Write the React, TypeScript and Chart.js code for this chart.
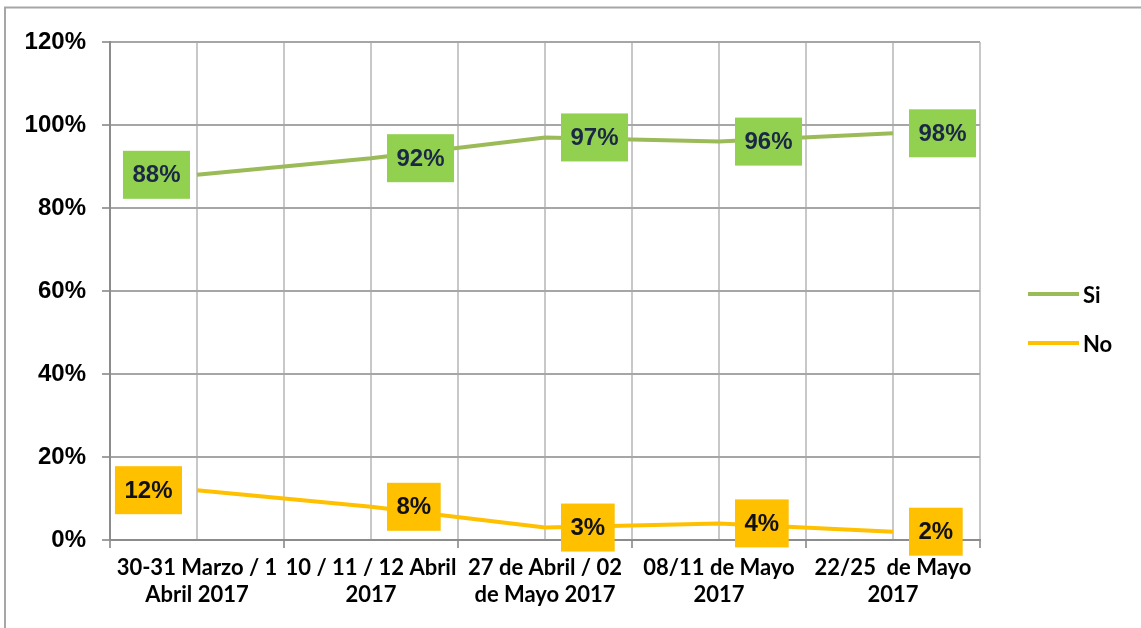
import React, { useEffect, useRef } from 'react';
import { Chart, registerables } from 'chart.js';

Chart.register(...registerables);

const categories: string[][] = [
  ['30-31 Marzo / 1', 'Abril 2017'],
  ['10 / 11 / 12 Abril', '2017'],
  ['27 de Abril / 02', 'de Mayo 2017'],
  ['08/11 de Mayo', '2017'],
  ['22/25  de Mayo', '2017'],
];
const seriesNames = ['Si', 'No'];
const siValues = [88, 92, 97, 96, 98];
const noValues = [12, 8, 3, 4, 2];
const yMin = 0;
const yMax = 120;
const yStep = 20;

const lineColors = ['#9BBB59', '#FFC000'];
const boxColors = ['#92D050', '#FFC000'];
const boxTextColors = ['#1B2845', '#111111'];

const ARIAL_BOLD = 'bold 24px "Liberation Sans", Arial, sans-serif';
const CAL_FAMILY = 'Lato, "Liberation Sans", sans-serif';

const labelPlugin = {
  id: 'customDecor',
  beforeDraw(chart: any) {
    const ctx = chart.ctx;
    ctx.save();
    ctx.fillStyle = '#FFFFFF';
    ctx.fillRect(0, 0, chart.width, chart.height);
    ctx.strokeStyle = '#A6A6A6';
    ctx.lineWidth = 2;
    ctx.strokeRect(5, 7.5, chart.width + 20, chart.height + 20);
    ctx.restore();
  },
  afterDatasetsDraw(chart: any) {
    const ctx = chart.ctx;
    ctx.save();
    ctx.font = ARIAL_BOLD;
    ctx.textBaseline = 'middle';
    ctx.textAlign = 'center';
    chart.data.datasets.forEach((ds: any, di: number) => {
      const meta = chart.getDatasetMeta(di);
      meta.data.forEach((pt: any, i: number) => {
        const v = ds.data[i].y;
        const text = v + '%';
        const tw = ctx.measureText(text).width;
        const w = tw + 19;
        const h = 48;
        let left: number;
        if (i === 0) {
          left = pt.x - (di === 0 ? 7 : 15) - w;
        } else {
          left = pt.x + 16;
        }
        const top = pt.y - h / 2;
        ctx.fillStyle = boxColors[di];
        ctx.fillRect(left, top, w, h);
        ctx.fillStyle = boxTextColors[di];
        ctx.fillText(text, left + w / 2, pt.y + 1);
      });
    });
    ctx.restore();
  },
  afterDraw(chart: any) {
    const ctx = chart.ctx;
    ctx.save();
    const ys = [294, 343];
    seriesNames.forEach((name, i) => {
      ctx.strokeStyle = lineColors[i];
      ctx.lineWidth = 4;
      ctx.beginPath();
      ctx.moveTo(1028, ys[i]);
      ctx.lineTo(1079, ys[i]);
      ctx.stroke();
      ctx.fillStyle = '#000000';
      ctx.font = 'bold 22px ' + CAL_FAMILY;
      ctx.textAlign = 'left';
      ctx.textBaseline = 'middle';
      ctx.fillText(name, 1083, ys[i] + 2);
    });
    ctx.restore();
  },
};

export default function App() {
  const ref = useRef<HTMLCanvasElement | null>(null);
  useEffect(() => {
    document.body.style.margin = '0';
    if (!ref.current) return;
    const chart = new Chart(ref.current, {
      type: 'line',
      data: {
        datasets: [
          {
            label: seriesNames[0],
            data: siValues.map((v, i) => ({ x: 2 * i + 1, y: v })),
            borderColor: lineColors[0],
            backgroundColor: lineColors[0],
            borderWidth: 4,
            pointRadius: 0,
            tension: 0,
            fill: false,
          },
          {
            label: seriesNames[1],
            data: noValues.map((v, i) => ({ x: 2 * i + 1, y: v })),
            borderColor: lineColors[1],
            backgroundColor: lineColors[1],
            borderWidth: 4,
            pointRadius: 0,
            tension: 0,
            fill: false,
          },
        ],
      },
      options: {
        animation: false,
        responsive: false,
        maintainAspectRatio: false,
        layout: { padding: { top: 42, right: 161, left: 0, bottom: 0 } },
        plugins: {
          legend: { display: false },
          tooltip: { enabled: false },
        },
        scales: {
          x: {
            type: 'linear',
            min: 0,
            max: categories.length * 2,
            afterFit: (s: any) => {
              s.height = 88;
            },
            ticks: {
              stepSize: 1,
              autoSkip: false,
              maxTicksLimit: 30,
              maxRotation: 0,
              minRotation: 0,
              padding: 6,
              color: '#000000',
              font: { family: CAL_FAMILY, size: 22, weight: 'bold', lineHeight: 1.25 },
              callback: (v: any) => {
                const n = Number(v);
                return n % 2 === 1 ? categories[(n - 1) / 2] : '';
              },
            },
            grid: {
              color: '#C8C8C8',
              lineWidth: 2,
              tickLength: 8,
              tickColor: (c: any) => (c.tick && c.tick.value % 2 === 0 ? '#A0A0A0' : 'rgba(0,0,0,0)'),
            },
            border: { color: '#8C8C8C', width: 2 },
          },
          y: {
            min: yMin,
            max: yMax,
            afterFit: (s: any) => {
              s.width = 110;
            },
            ticks: {
              stepSize: yStep,
              padding: 16,
              color: '#000000',
              font: { family: '"Liberation Sans", Arial, sans-serif', size: 24, weight: 'bold' },
              callback: (v: any) => v + '%',
            },
            grid: {
              color: '#A6A6A6',
              lineWidth: 2,
              tickLength: 8,
              tickColor: '#A0A0A0',
            },
            border: { color: '#8C8C8C', width: 2 },
          },
        },
      },
      plugins: [labelPlugin],
    } as any);
    return () => chart.destroy();
  }, []);
  return (
    <div style={{ width: 1141, height: 628 }}>
      <canvas ref={ref} width={1141} height={628} style={{ display: 'block' }} />
    </div>
  );
}
